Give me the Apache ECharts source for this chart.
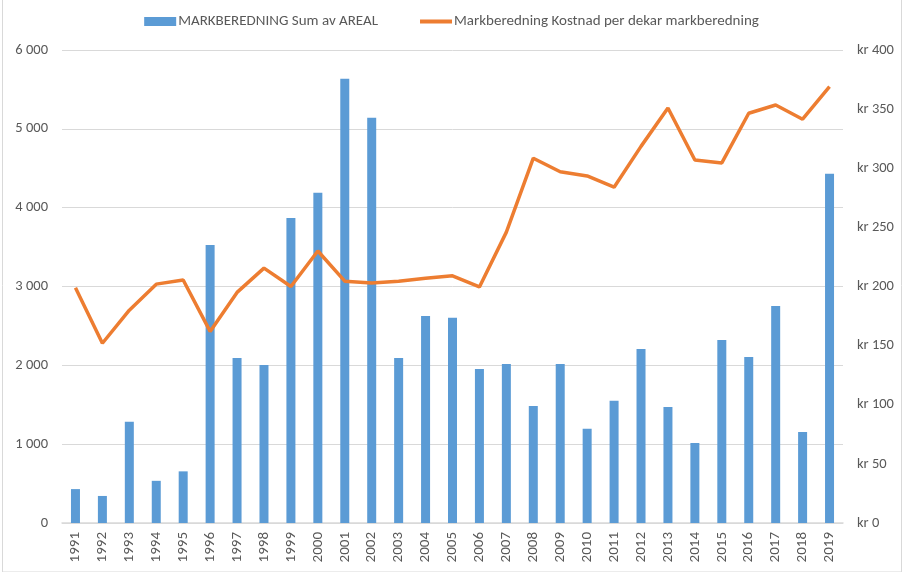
<!DOCTYPE html>
<html>
<head>
<meta charset="utf-8">
<script src="https://cdn.jsdelivr.net/npm/echarts@6/dist/echarts.min.js"></script>
<style>html,body{margin:0;padding:0;background:#fff;}#c{width:903px;height:572px;}</style>
</head>
<body>
<div id="c"></div>
<script>
const years = ['1991','1992','1993','1994','1995','1996','1997','1998','1999','2000','2001','2002','2003','2004','2005','2006','2007','2008','2009','2010','2011','2012','2013','2014','2015','2016','2017','2018','2019'];
const areal = [430,343,1285,535,655,3528,2094,2005,3870,4190,5635,5140,2094,2627,2605,1955,2018,1485,2018,1195,1550,2208,1472,1015,2322,2107,2754,1155,4429];
const kostnad = [199,152,180,202,205.5,162,195,215.5,200,230,204.5,203,204.5,207,209,199.6,246,308.5,297,293.5,284,318.5,351,307,304.5,346.5,353.5,341.5,369];
const leftTicks = [0,1000,2000,3000,4000,5000,6000];
const rightTicks = [0,50,100,150,200,250,300,350,400];

const fmtLeft = v => String(v).replace(/\B(?=(\d{3})+(?!\d))/g, ' ');
const chart = echarts.init(document.getElementById('c'));
const fontFam = 'Carlito, Lato, "Open Sans", "Noto Sans", sans-serif';
chart.setOption({
  animation: false,
  textStyle: {fontFamily: fontFam},
  graphic: [{type:'rect', shape:{x:2.5,y:-1,width:899,height:573}, style:{fill:'none', stroke:'#d9d9d9', lineWidth:1}}],
  legend: {
    top: 9, left: 'center', itemGap: 42, itemWidth: 32, itemHeight: 9,
    textStyle: {color:'#595959', fontSize:15, fontFamily: fontFam, padding:[0,0,0,-3]},
    data: [
      {name:'MARKBEREDNING Sum av AREAL', icon:'rect'},
      {name:'Markberedning Kostnad per dekar markberedning', icon:'path://M0,0 L32,0 L32,4 L0,4 Z'}
    ]
  },
  grid: {left: 62, right: 60, top: 50, bottom: 49},
  xAxis: {
    type: 'category', data: years,
    axisLine: {lineStyle:{color:'#d9d9d9', width:1.5}},
    axisTick: {show:false},
    axisLabel: {rotate: 90, color:'#595959', fontSize:15, margin:9, fontFamily: fontFam}
  },
  yAxis: [
    {type:'value', min:0, max:6000, interval:1000,
     axisLine:{show:false}, axisTick:{show:false},
     splitLine:{lineStyle:{color:'#d9d9d9'}},
     axisLabel:{color:'#595959', fontSize:14.5, margin:14, formatter: v => fmtLeft(v), fontFamily: fontFam}},
    {type:'value', min:0, max:400, interval:50,
     axisLine:{show:false}, axisTick:{show:false}, splitLine:{show:false},
     axisLabel:{color:'#595959', fontSize:14.5, margin:14, formatter: v => 'kr ' + v, fontFamily: fontFam}}
  ],
  series: [
    {name:'MARKBEREDNING Sum av AREAL', type:'bar', data: areal, barWidth: 9,
     itemStyle:{color:'#5b9bd5'}},
    {name:'Markberedning Kostnad per dekar markberedning', type:'line', yAxisIndex:1, data: kostnad,
     symbol:'none', lineStyle:{color:'#ed7d31', width:3.5}, itemStyle:{color:'#ed7d31'}}
  ]
});
</script>
</body>
</html>
